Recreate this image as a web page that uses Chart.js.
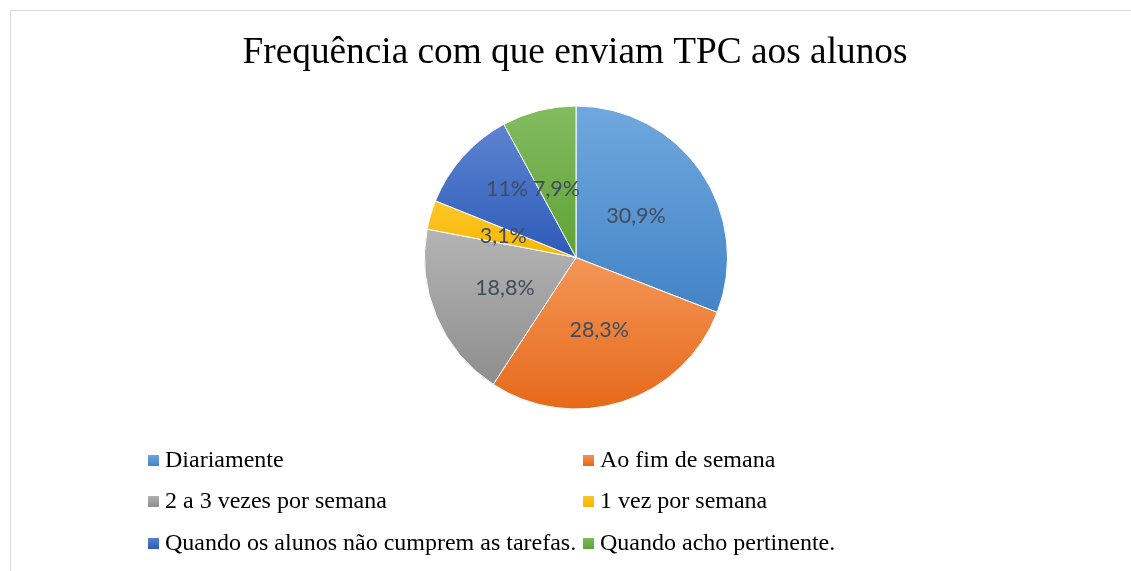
<!DOCTYPE html>
<html>
<head>
<meta charset="utf-8">
<script src="https://cdn.jsdelivr.net/npm/chart.js@4.4.1/dist/chart.umd.min.js"></script>
<style>
  html, body { margin: 0; padding: 0; background: #fff; width: 1131px; height: 571px; overflow: hidden; }
  #frame { position: absolute; left: 10px; top: 10px; width: 1140px; height: 580px; border: 1px solid #d9d9d9; box-sizing: border-box; }
  canvas { position: absolute; left: 0; top: 0; }
</style>
</head>
<body>
<div id="frame"></div>
<canvas id="c" width="1131" height="571"></canvas>
<script>
const titleText = 'Frequência com que enviam TPC aos alunos';
const categories = [
  'Diariamente',
  'Ao fim de semana',
  '2 a 3 vezes por semana',
  '1 vez por semana',
  'Quando os alunos não cumprem as tarefas.',
  'Quando acho pertinente.'
];
const values = [30.9, 28.3, 18.8, 3.1, 11, 7.9];
const valueLabels = ['30,9%', '28,3%', '18,8%', '3,1%', '11%', '7,9%'];
const colorTop = ['#6fa8de', '#f49657', '#b4b4b4', '#ffc629', '#5d84d1', '#82bc60'];
const colorBottom = ['#4384c6', '#e6691a', '#8e8e8e', '#f4b700', '#2c5bb8', '#60a235'];

const SERIF = '"Liberation Serif", "Times New Roman", serif';
const SANS = 'Lato, "Liberation Sans", sans-serif';

function sliceGradient(ctx, el, i) {
  const ys = [el.y];
  const s = el.startAngle, e = el.endAngle;
  const n = 24;
  for (let k = 0; k <= n; k++) {
    const a = s + (e - s) * k / n;
    ys.push(el.y + Math.sin(a) * el.outerRadius);
  }
  const y0 = Math.min(...ys), y1 = Math.max(...ys);
  const g = ctx.createLinearGradient(0, y0, 0, Math.max(y1, y0 + 1));
  g.addColorStop(0, colorTop[i]);
  g.addColorStop(1, colorBottom[i]);
  return g;
}

const gradientPlugin = {
  id: 'sliceGradients',
  beforeDatasetsDraw(chart) {
    const meta = chart.getDatasetMeta(0);
    meta.data.forEach((el, i) => {
      el.options.backgroundColor = sliceGradient(chart.ctx, el, i);
    });
  }
};

const labelPlugin = {
  id: 'sliceLabels',
  afterDatasetsDraw(chart) {
    const ctx = chart.ctx;
    const meta = chart.getDatasetMeta(0);
    const frac = [0.48, 0.5, 0.51, 0.5, 0.64, 0.47];
    ctx.save();
    ctx.font = '21.5px ' + SANS;
    ctx.fillStyle = '#404c5e';
    ctx.textAlign = 'center';
    ctx.textBaseline = 'middle';
    meta.data.forEach((el, i) => {
      let mid = (el.startAngle + el.endAngle) / 2;
      if (i === 4) mid += 0.05;
      if (i === 5) mid -= 0.03;
      const r = el.outerRadius * frac[i];
      ctx.fillText(valueLabels[i], el.x + Math.cos(mid) * r, el.y + Math.sin(mid) * r);
    });
    ctx.restore();
  }
};

const titleLegendPlugin = {
  id: 'serifTitleLegend',
  afterDraw(chart) {
    const ctx = chart.ctx;
    ctx.save();
    ctx.font = '37.3px ' + SERIF;
    ctx.fillStyle = '#000';
    ctx.textAlign = 'center';
    ctx.textBaseline = 'middle';
    ctx.fillText(titleText, 575, 53);
    ctx.restore();

    const colX = [148, 583];
    const rowY = [460, 501, 543];
    categories.forEach((c, i) => {
      const x = colX[i % 2], y = rowY[Math.floor(i / 2)];
      const g = ctx.createLinearGradient(0, y - 6, 0, y + 6);
      g.addColorStop(0, colorTop[i]);
      g.addColorStop(1, colorBottom[i]);
      ctx.fillStyle = g;
      ctx.fillRect(x, y - 5, 11, 11);
      ctx.save();
      ctx.font = '24px ' + SERIF;
      ctx.fillStyle = '#000';
      ctx.textAlign = 'left';
      ctx.textBaseline = 'middle';
      ctx.fillText(c, x + 17, y + 1);
      ctx.restore();
    });
  }
};

function build() {
  new Chart(document.getElementById('c'), {
    type: 'pie',
    data: {
      labels: categories,
      datasets: [{
        data: values,
        backgroundColor: colorBottom,
        borderColor: '#ffffff',
        borderWidth: 1
      }]
    },
    options: {
      responsive: false,
      animation: false,
      layout: { padding: { left: 424, right: 403, top: 105, bottom: 161 } },
      plugins: {
        legend: { display: false },
        title: { display: false },
        tooltip: { enabled: false }
      }
    },
    plugins: [gradientPlugin, labelPlugin, titleLegendPlugin]
  });
}

Promise.all([
  document.fonts.load('37px "Liberation Serif"'),
  document.fonts.load('21px Lato')
]).then(build, build);
</script>
</body>
</html>
